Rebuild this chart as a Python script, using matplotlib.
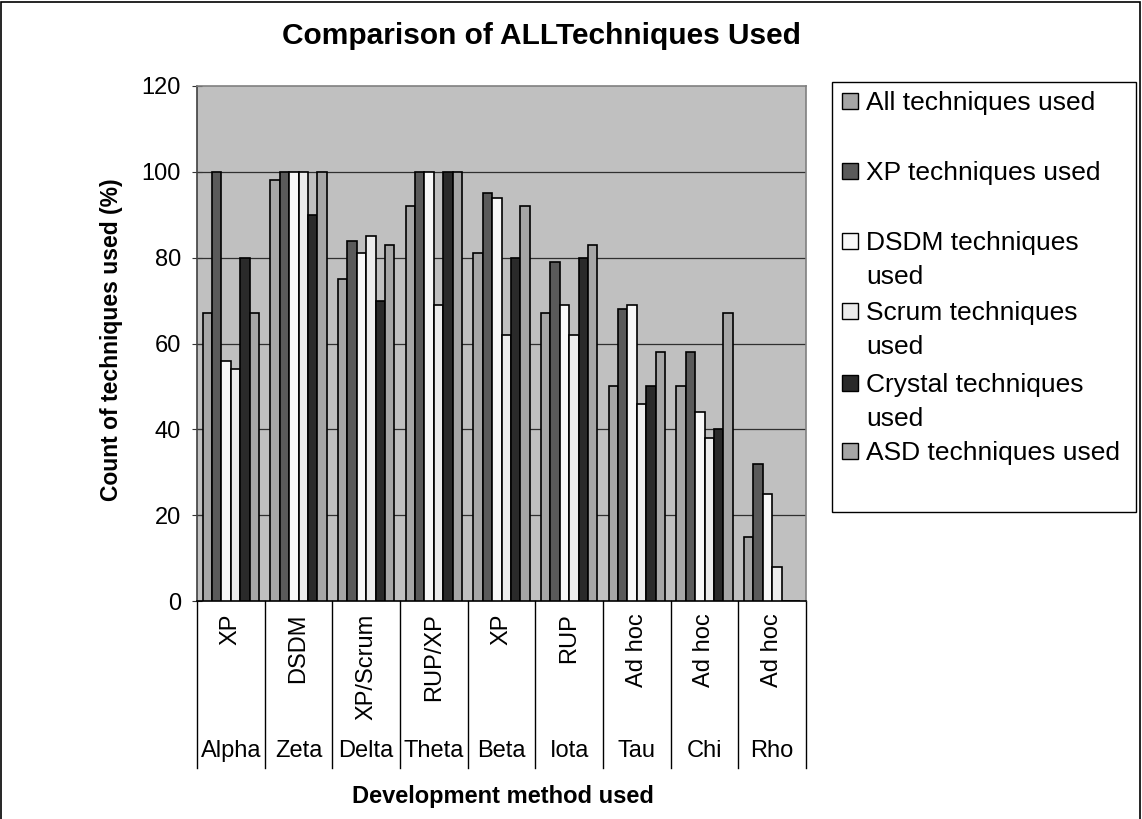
import numpy as np
import matplotlib
matplotlib.use("Agg")
import matplotlib.pyplot as plt
from matplotlib.patches import Rectangle
from matplotlib.transforms import blended_transform_factory

plt.rcParams["font.family"] = ["Liberation Sans", "DejaVu Sans"]

projects = ["Alpha", "Zeta", "Delta", "Theta", "Beta", "Iota", "Tau", "Chi", "Rho"]
methods = ["XP", "DSDM", "XP/Scrum", "RUP/XP", "XP", "RUP", "Ad hoc", "Ad hoc", "Ad hoc"]

legend_labels = [
    "All techniques used",
    "XP techniques used",
    "DSDM techniques\nused",
    "Scrum techniques\nused",
    "Crystal techniques\nused",
    "ASD techniques used",
]
all_used = [67, 98, 75, 92, 81, 67, 50, 50, 15]
xp_used = [100, 100, 84, 100, 95, 79, 68, 58, 32]
dsdm_used = [56, 100, 81, 100, 94, 69, 69, 44, 25]
scrum_used = [54, 100, 85, 69, 62, 62, 46, 38, 8]
crystal_used = [80, 90, 70, 100, 80, 80, 50, 40, 0]
asd_used = [67, 100, 83, 100, 92, 83, 58, 67, 0]

series = [all_used, xp_used, dsdm_used, scrum_used, crystal_used, asd_used]
colors = ["#a6a6a6", "#5a5a5a", "#f8f8f8", "#ececec", "#2a2a2a", "#a6a6a6"]

W, H = 1142, 819


def fx(px):
    return px / W


def fy(py):
    return 1 - py / H


fig = plt.figure(figsize=(W / 100, H / 100), dpi=100)
ax = fig.add_axes([fx(197), fy(601), fx(806 - 197), (601 - 86) / H])
ax.set_facecolor("#c0c0c0")

x = np.arange(len(projects))
bar_w = 0.138
offsets = (np.arange(len(series)) - (len(series) - 1) / 2) * bar_w
for vals, off, col in zip(series, offsets, colors):
    ax.bar(x + off, vals, width=bar_w, color=col, edgecolor="black",
           linewidth=1.2, zorder=3)

ax.set_xlim(-0.5, len(projects) - 0.5)
ax.set_ylim(0, 120)
ax.set_yticks(range(0, 121, 20))
ax.tick_params(axis="y", labelsize=17, direction="inout", length=7,
               color="#333333", pad=8)
ax.set_xticks([])
for yv in range(20, 101, 20):
    ax.axhline(yv, color="#303030", linewidth=0.9, zorder=1)

for side in ["top", "right"]:
    ax.spines[side].set_color("#808080")
    ax.spines[side].set_linewidth(1.2)
ax.spines["left"].set_color("#404040")
ax.spines["bottom"].set_color("black")
ax.spines["left"].set_linewidth(1.2)
ax.spines["bottom"].set_linewidth(1.2)

# two-level category axis below the plot
trans = blended_transform_factory(ax.transData, ax.transAxes)
for b in np.arange(-0.5, len(projects), 1.0):
    ax.plot([b, b], [0, -0.325], color="black", linewidth=1.0,
            transform=trans, clip_on=False)
for xi, m, p in zip(x, methods, projects):
    ax.text(xi, -0.024, m, transform=trans, rotation=90, ha="center",
            va="top", fontsize=17)
    ax.text(xi, -0.291, p, transform=trans, ha="center", va="center",
            fontsize=17)

fig.text(fx(112), fy(340), "Count of techniques used (%)", rotation=90,
         ha="center", va="center", fontsize=16.5, fontweight="bold")
fig.text(fx(503), fy(796), "Development method used", ha="center",
         va="center", fontsize=17, fontweight="bold")
fig.text(fx(541), fy(36), "Comparison of ALLTechniques Used", ha="center",
         va="center", fontsize=21.5, fontweight="bold")

# legend box, entries placed by baseline of their first line
fig.patches.append(Rectangle((fx(832), fy(512)), fx(304), 430 / H,
                             transform=fig.transFigure, facecolor="white",
                             edgecolor="black", linewidth=1.0))
legend_base = [110, 180, 250, 320, 392, 460]
line_step = 34
for lab, col, yy in zip(legend_labels, colors, legend_base):
    fig.patches.append(Rectangle((fx(842), fy(yy - 1)), fx(16), 16 / H,
                                 transform=fig.transFigure, facecolor=col,
                                 edgecolor="black", linewidth=1.0))
    for i, line in enumerate(lab.split("\n")):
        fig.text(fx(866), fy(yy + i * line_step), line, ha="left",
                 va="baseline", fontsize=19)

# outer chart border
fig.patches.append(Rectangle((0.001, -0.01), 0.997, 1.008, transform=fig.transFigure,
                             fill=False, edgecolor="black", linewidth=1.2))

fig.savefig("out.png", dpi=100)
